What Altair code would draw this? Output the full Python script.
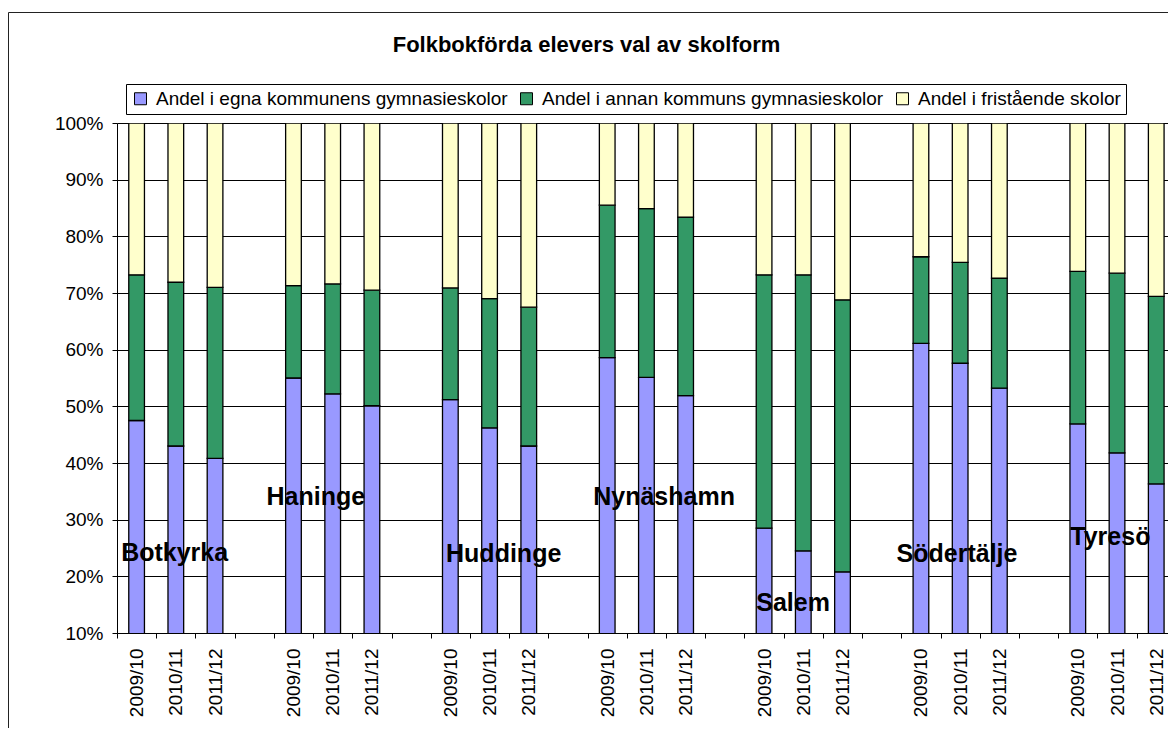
import json
import altair as alt
import pandas as pd

# ---------------- data ----------------
municipalities = ["Botkyrka", "Haninge", "Huddinge", "Nynäshamn", "Salem", "Södertälje", "Tyresö"]
years = ["2009/10", "2010/11", "2011/12"]
series = [
    "Andel i egna kommunens gymnasieskolor",
    "Andel i annan kommuns gymnasieskolor",
    "Andel i fristående skolor",
]
colors = ["#9999FF", "#339966", "#FFFFCC"]

# shares (%) per municipality, three school years each
own_share = [47.5, 43.0, 40.8,  55.0, 52.2, 50.1,  51.2, 46.2, 43.0,  58.6, 55.1, 51.9,
             28.5, 24.5, 20.8,  61.1, 57.6, 53.2,  46.9, 41.8, 36.3]
other_share = [25.7, 28.9, 30.2,  16.3, 19.4, 20.4,  19.7, 22.8, 24.5,  26.9, 29.8, 31.5,
               44.7, 48.7, 48.0,  15.3, 17.8, 19.4,  26.9, 31.7, 33.1]
free_share = [26.8, 28.1, 29.0,  28.7, 28.4, 29.5,  29.1, 31.0, 32.5,  14.5, 15.1, 16.6,
              26.8, 26.8, 31.2,  23.6, 24.6, 27.4,  26.2, 26.5, 30.6]

# where each municipality name sits (slot units, percent)
label_slot = [1.47, 5.07, 9.86, 13.95, 17.24, 21.42, 25.33]
label_pct = [24.1, 34.0, 23.9, 34.0, 15.3, 23.9, 27.0]

# ---------------- tables ----------------
slots_per_group = len(years) + 1
rows = []
for g, m in enumerate(municipalities):
    for j, yr in enumerate(years):
        i = g * len(years) + j
        slot = g * slots_per_group + j
        base = 0.0
        for s, vals in zip(series, [own_share, other_share, free_share]):
            v = vals[i]
            rows.append({"municipality": m, "year": yr, "series": s,
                         "x0": slot + 0.3, "x1": slot + 0.7,
                         "y0": base, "y1": base + v, "share": v})
            base += v
df = pd.DataFrame(rows)

lab_df = pd.DataFrame({"name": municipalities, "lx": label_slot, "ly": label_pct})

n_slots = len(municipalities) * slots_per_group - 1
tick_vals = list(range(n_slots))
center_vals = [g * slots_per_group + j + 0.5 for g in range(len(municipalities)) for j in range(len(years))]
x_values = sorted(tick_vals + center_vals)

FONT = "Liberation Sans"

xscale = alt.Scale(domain=[0, 26.8], nice=False, zero=False)
yscale = alt.Scale(domain=[10, 100], nice=False, zero=False)

label_expr = ("datum.value % 1 == 0 ? '' : " + json.dumps(years) +
              "[floor(datum.value) % " + str(slots_per_group) + "]")

xaxis = alt.Axis(
    title=None, values=x_values, labelExpr=label_expr,
    labelAngle=270, labelAlign="right", labelBaseline="middle",
    labelPadding=10, labelFont=FONT, labelFontSize=19, labelColor="#000",
    tickSize=5, tickColor="#000", tickWidth=1,
    tickOpacity={"condition": {"test": "datum.value % 1 == 0", "value": 1}, "value": 0},
    domainColor="#000", domainWidth=1, grid=False,
    labelFlush=False, labelOverlap=False, labelBound=False,
)
yaxis = alt.Axis(
    title=None, values=list(range(10, 101, 10)), labelExpr="datum.value + '%'",
    labelFont=FONT, labelFontSize=19, labelColor="#000", labelPadding=9,
    tickSize=5, tickColor="#000", domainColor="#000", domainWidth=1,
    grid=True, gridColor="#000", gridWidth=1, labelFlush=False, labelOverlap=False,
)

legend = alt.Legend(
    title=None, orient="none", legendX=9, legendY=-39,
    direction="horizontal", columns=3,
    symbolType="square", symbolSize=144, symbolStrokeColor="#000", symbolStrokeWidth=1,
    labelFont=FONT, labelFontSize=19, labelColor="#000", labelLimit=800, labelOffset=6,
    strokeColor="#000", fillColor="#FFFFFF", padding=5, columnPadding=9,
)

frame = alt.Chart(pd.DataFrame({"f": [0]})).mark_rect(
    fillOpacity=0, stroke="#222", strokeWidth=1, clip=False
).encode(
    x=alt.value(-108.5), x2=alt.value(1300), y=alt.value(-110.5), y2=alt.value(800)
)

bars = alt.Chart(df).mark_bar(stroke="#000", strokeWidth=1.3, clip=True).encode(
    x=alt.X("x0:Q", scale=xscale, axis=xaxis),
    x2="x1:Q",
    y=alt.Y("y0:Q", scale=yscale, axis=yaxis),
    y2="y1:Q",
    color=alt.Color("series:N", scale=alt.Scale(domain=series, range=colors), legend=legend),
    order=alt.Order("y0:Q"),
)

labels = alt.Chart(lab_df).mark_text(
    font=FONT, fontSize=25, fontWeight="bold", color="#000", align="center", baseline="middle"
).encode(
    x=alt.X("lx:Q", scale=xscale, axis=xaxis),
    y=alt.Y("ly:Q", scale=yscale, axis=yaxis),
    text="name:N",
)

chart = alt.layer(frame, bars, labels).properties(
    width=1051, height=510,
    autosize=alt.AutoSizeParams(type="none"),
    padding={"left": 109, "top": 115, "right": 0, "bottom": 95},
    title=alt.TitleParams(
        text="Folkbokförda elevers val av skolform", font=FONT, fontSize=22,
        fontWeight="bold", color="#000", anchor="middle", frame="group",
        dx=-56, offset=-45,
    ),
).configure_view(strokeWidth=0).configure(background="#FFFFFF")

chart.save("out.html", embed_options={"renderer": "svg", "actions": False})
